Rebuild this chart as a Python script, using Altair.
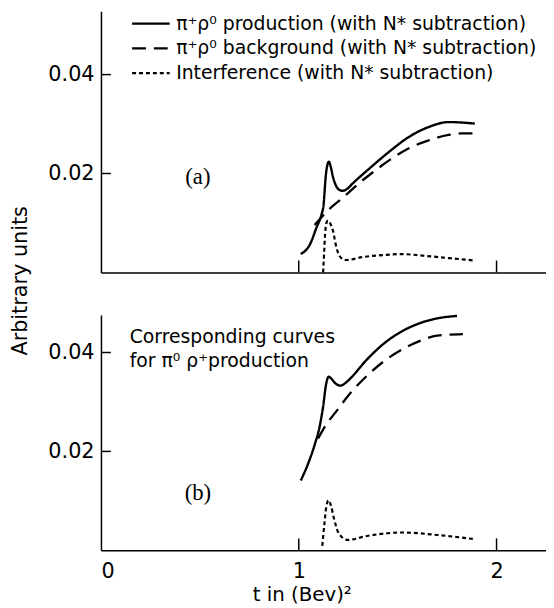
import altair as alt
import pandas as pd

# ---------------- data ----------------
SERIES = [
    "π⁺ρ⁰ production (with N* subtraction)",
    "π⁺ρ⁰ background (with N* subtraction)",
    "Interference (with N* subtraction)",
]

# panel (a)
a_prod_t = [1.01, 1.057, 1.09, 1.115, 1.125, 1.137, 1.145, 1.152, 1.16, 1.175, 1.19, 1.205, 1.223, 1.245, 1.273, 1.357, 1.457, 1.557, 1.657, 1.757, 1.89]
a_prod_y = [0.0037, 0.0057, 0.0091, 0.0117, 0.0135, 0.0197, 0.0218, 0.0224, 0.0216, 0.0190, 0.0174, 0.0167, 0.0165, 0.0169, 0.0180, 0.0210, 0.0244, 0.0274, 0.0294, 0.0304, 0.0301]
a_bg_t = [1.08, 1.098, 1.157, 1.223, 1.307, 1.39, 1.473, 1.557, 1.657, 1.757, 1.82, 1.89]
a_bg_y = [0.0096, 0.0104, 0.0129, 0.0151, 0.0181, 0.0207, 0.0231, 0.0251, 0.0267, 0.0278, 0.0281, 0.0281]
a_int_t = [1.123, 1.128, 1.133, 1.14, 1.148, 1.158, 1.173, 1.19, 1.215, 1.24, 1.323, 1.423, 1.523, 1.623, 1.757, 1.89]
a_int_y = [0.0, 0.0037, 0.0077, 0.0100, 0.0105, 0.0100, 0.0084, 0.0051, 0.0029, 0.0025, 0.0031, 0.0035, 0.0037, 0.0034, 0.0029, 0.0024]

# panel (b)
b_prod_t = [1.01, 1.045, 1.08, 1.107, 1.124, 1.137, 1.151, 1.165, 1.177, 1.195, 1.212, 1.235, 1.257, 1.345, 1.433, 1.522, 1.61, 1.70, 1.80]
b_prod_y = [0.0141, 0.0173, 0.0213, 0.0253, 0.0293, 0.0333, 0.0351, 0.0347, 0.0341, 0.0335, 0.0333, 0.0338, 0.0346, 0.0386, 0.0419, 0.0443, 0.0459, 0.0469, 0.0474]
b_bg_t = [1.098, 1.14, 1.186, 1.257, 1.345, 1.433, 1.522, 1.61, 1.70, 1.83]
b_bg_y = [0.0226, 0.0255, 0.0279, 0.0316, 0.0353, 0.0383, 0.0406, 0.0423, 0.0434, 0.0437]
b_int_t = [1.119, 1.13, 1.14, 1.151, 1.163, 1.177, 1.204, 1.248, 1.345, 1.522, 1.70, 1.88]
b_int_y = [0.0009, 0.0055, 0.0090, 0.0101, 0.0090, 0.0066, 0.0033, 0.0021, 0.0029, 0.0036, 0.0031, 0.0023]

x_tick_values = [1, 2]
y_tick_values = [0.02, 0.04]
x_label_values = [0, 1, 2]

panel_a_text = ["(a)"]
panel_b_text = ["(b)"]
note_lines = ["Corresponding curves", "for π⁰ ρ⁺production"]

X_TITLE = "t in (Bev)²"
Y_TITLE = "Arbitrary units"

# ---------------- build tables ----------------
def frame(ts, ys, name):
    return pd.DataFrame({"t": ts, "y": ys, "series": name, "order": range(len(ts))})

df_a = pd.concat([frame(a_prod_t, a_prod_y, SERIES[0]),
                  frame(a_bg_t, a_bg_y, SERIES[1]),
                  frame(a_int_t, a_int_y, SERIES[2])])
df_b = pd.concat([frame(b_prod_t, b_prod_y, SERIES[0]),
                  frame(b_bg_t, b_bg_y, SERIES[1]),
                  frame(b_int_t, b_int_y, SERIES[2])])

FONT = "DejaVu Sans"
SERIF = "Liberation Serif"
W = 450
HA = 264
HB = 238
XDOM = [0, 2.25]

dash_scale = alt.Scale(domain=SERIES, range=[[1, 0], [14, 8], [4, 3]])
width_scale = alt.Scale(domain=SERIES, range=[2.4, 2.2, 2.0])


def curves(df, ydom, show_x_labels, legend):
    if show_x_labels:
        xaxis = alt.Axis(values=x_label_values, format="d", labels=True, ticks=False,
                         labelFontSize=21, labelFont=FONT, labelPadding=11,
                         title=X_TITLE, titleFontSize=20, titleFont=FONT,
                         titleFontWeight="normal", titlePadding=3, titleX=203, grid=False)
    else:
        xaxis = alt.Axis(values=[], labels=False, ticks=False, title=None, grid=False)
    if legend:
        yaxis = alt.Axis(values=y_tick_values, format=".2f", ticks=False,
                         labelFontSize=21, labelFont=FONT, labelPadding=7, grid=False,
                         title=Y_TITLE, titleFontSize=21, titleFont=FONT, titleFontWeight="normal",
                         titleX=-75, titleY=272, titleAlign="center", titleBaseline="alphabetic",
                         titleAngle=270)
        leg = alt.Legend(title=None, orient="none", legendX=30, legendY=0,
                         symbolType="stroke", symbolSize=1444, symbolStrokeWidth=2,
                         symbolStrokeColor="black", labelLimit=0,
                         labelFontSize=19, labelFont=FONT, labelOffset=5,
                         clipHeight=25, rowPadding=0)
    else:
        yaxis = alt.Axis(values=y_tick_values, format=".2f", ticks=False,
                         labelFontSize=21, labelFont=FONT, labelPadding=7, grid=False, title=None)
        leg = None
    return alt.Chart(df).mark_line(color="black", interpolate="monotone").encode(
        x=alt.X("t:Q", scale=alt.Scale(domain=XDOM, nice=False, zero=False), axis=xaxis),
        y=alt.Y("y:Q", scale=alt.Scale(domain=ydom, nice=False), axis=yaxis),
        strokeDash=alt.StrokeDash("series:N", scale=dash_scale, legend=leg),
        strokeWidth=alt.StrokeWidth("series:N", scale=width_scale, legend=None),
        detail="series:N",
        order="order:Q",
    )


def ticks(H):
    xt = alt.Chart(pd.DataFrame({"t": x_tick_values})).mark_rule(color="black", strokeWidth=1.5).encode(
        x="t:Q", y=alt.value(H), y2=alt.value(H - 12))
    yt = alt.Chart(pd.DataFrame({"y": y_tick_values})).mark_rule(color="black", strokeWidth=1.5).encode(
        y="y:Q", x=alt.value(0), x2=alt.value(10))
    return xt + yt


def text_layer(lines, x, y, font, size, align):
    return alt.Chart(pd.DataFrame({"txt": lines})).mark_text(
        font=font, fontSize=size, align=align, baseline="middle", color="black"
    ).encode(text="txt:N", x=alt.value(x), y=alt.value(y))


lab_a = text_layer(panel_a_text, 98, 168, SERIF, 23, "center")
lab_b = text_layer(panel_b_text, 98, 180, SERIF, 23, "center")
note1 = text_layer(note_lines[:1], 29, 22, FONT, 19, "left")
note2 = text_layer(note_lines[1:], 29, 47, FONT, 19, "left")

panel_a = alt.layer(curves(df_a, [0, 0.0528], False, True), ticks(HA), lab_a).properties(width=W, height=HA)
panel_b = alt.layer(curves(df_b, [0, 0.0476], True, False), ticks(HB), lab_b, note1, note2).properties(width=W, height=HB)

chart = alt.vconcat(panel_a, panel_b, spacing=43, bounds="flush").resolve_scale(y="independent").properties(
    padding={"left": 2, "top": 0, "right": 0, "bottom": 0}
).configure_view(stroke=None).configure_axis(
    domainColor="black", domainWidth=1.5, labelColor="black", titleColor="black"
).configure_legend(labelColor="black")

chart.save("out.html", embed_options={"renderer": "svg", "actions": False})
